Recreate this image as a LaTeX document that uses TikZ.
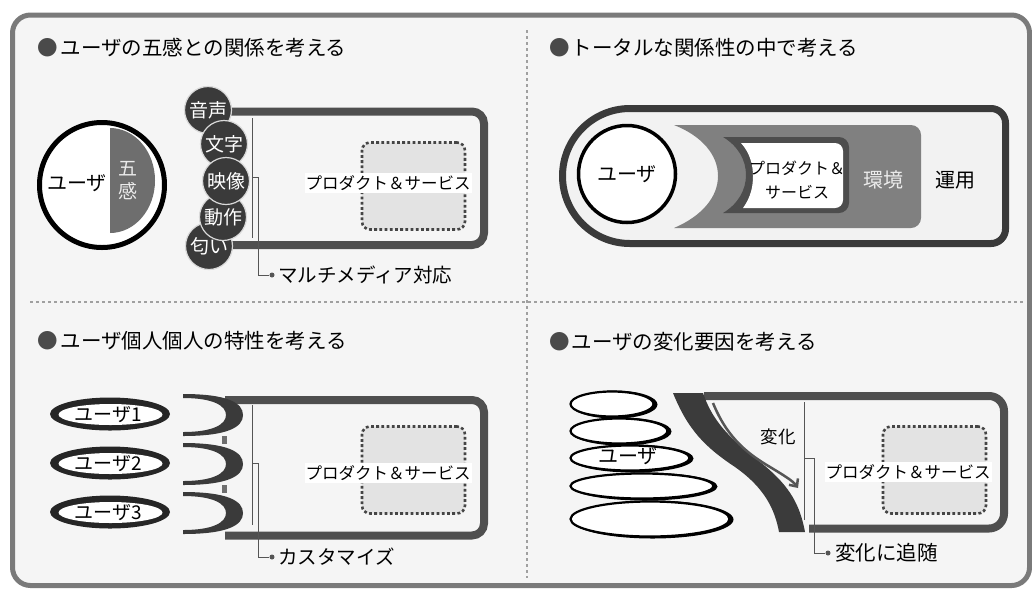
\documentclass[tikz,border=0pt]{standalone}
\usepackage{fontspec}
\setmainfont{Noto Sans CJK JP}
\usetikzlibrary{shapes.geometric,arrows.meta,calc}
\definecolor{framegray}{HTML}{7A7A7A}
\definecolor{bgcol}{HTML}{F5F5F5}
\definecolor{divgray}{HTML}{A0A0A0}
\definecolor{boxgray}{HTML}{4F4F4F}
\definecolor{sensedark}{HTML}{3A3A3A}
\definecolor{sensegray}{HTML}{6E6E6E}
\definecolor{slotline}{HTML}{454545}
\definecolor{slotfill}{HTML}{E3E3E3}
\definecolor{guidegray}{HTML}{555555}
\definecolor{bulletgray}{HTML}{4A4A4A}
\definecolor{envgray}{HTML}{808080}
\definecolor{proddark}{HTML}{4D4D4D}
\definecolor{bandgray}{HTML}{3B3B3B}
\definecolor{capfill}{HTML}{F2F2F2}
\definecolor{arrowgray}{HTML}{555555}
\tikzset{
 title/.style={anchor=west, inner sep=0, font=\fontsize{20.5}{24}\selectfont},
 boxline/.style={draw=boxgray, line width=8pt, rounded corners=12pt},
 sense/.style={circle, fill=sensedark, draw=white!85!black, line width=1.2pt, minimum size=47pt, inner sep=0, text=white, font=\fontsize{19}{20}\selectfont},
 pslot/.style={draw=slotline, fill=slotfill, line width=2.6pt, dash pattern=on 2.8pt off 2.4pt, rounded corners=8pt, minimum width=103pt, minimum height=87pt, inner sep=0},
 plabel/.style={fill=white, inner xsep=1pt, inner ysep=2pt, font=\fontsize{16.5}{20}\selectfont},
 guide/.style={draw=guidegray, line width=1pt},
 gdot/.style={circle, fill=guidegray, inner sep=0, minimum size=5pt},
 note/.style={anchor=west, inner sep=0, font=\fontsize{19.5}{22}\selectfont},
 divider/.style={draw=divgray, line width=1.2pt, dash pattern=on 3pt off 3pt},
 lbl/.style={inner sep=0, font=\fontsize{20}{22}\selectfont},
}
\begin{document}
\begin{tikzpicture}[x=1pt,y=-1pt]
\useasboundingbox (0,0) rectangle (1032,590);
\fill[white] (0,0) rectangle (1032,590);
% outer frame
\draw[framegray, line width=5pt, fill=bgcol, rounded corners=18pt] (12.5,15) rectangle (1029.5,585.5);
% dividers
\draw[divider] (527,30) -- (527,578);
\draw[divider] (30,302) -- (1024,302);

% ================= Panel 1 =================
\node[title] (t1) at (37,48) {\textcolor{bulletgray}{●}\hspace{3pt}ユーザの五感との関係を考える};
\draw[boxline] (208,111.5) -- (484,111.5) -- (484,245) -- (208,245);
\node[pslot] (s1) at (413.5,186) {};
\node[plabel] (p1) at (388,183) {プロダクト＆サービス};
% user circle
\node[circle, draw=black, line width=5pt, fill=white, minimum size=125pt, inner sep=0] (u1) at (102,185) {};
\fill[sensegray] (110,128) arc[start angle=-90, end angle=90, x radius=45, y radius=52.5] -- cycle;
\node[lbl] (u1t) at (77,183) {ユーザ};
\node[lbl, text=white!92!black, align=center, font=\fontsize{19}{23}\selectfont] (u1s) at (128,181) {五\\感};
% senses
\node[sense] (c1) at (208,110) {音声};
\node[sense] (c5) at (209,246) {匂い};
\node[sense] (c2) at (224,144) {文字};
\node[sense] (c4) at (223,217) {動作};
\node[sense] (c3) at (226,181) {映像};
% guide
\coordinate (g1a) at (252,118);
\coordinate (g1b) at (252,238);
\coordinate (g1m) at (252,177);
\draw[guide] (g1a) -- (g1b);
\node[gdot] (d1) at (272,275) {};
\draw[guide] (g1m) -- ++(6,0) |- (d1);
\node[note] (n1) at (278,275) {マルチメディア対応};

% ================= Panel 2 =================
\node[title] (t2) at (549,48) {\textcolor{bulletgray}{●}\hspace{2pt}トータルな関係性の中で考える};
\draw[draw=sensedark, line width=7pt, fill=capfill] (630,243.5) arc[start angle=90, end angle=270, radius=67.5] -- (991,108.5) arc[start angle=-90, end angle=0, radius=14.5] -- (1005.5,229) arc[start angle=0, end angle=90, radius=14.5] -- cycle;
\fill[envgray] (674,125) -- (911,125) arc[start angle=-90, end angle=0, radius=10] -- (921,218) arc[start angle=0, end angle=90, radius=10] -- (674,228) .. controls (702,216) and (718,197) .. (718,176) .. controls (718,155) and (702,136) .. (674,125) -- cycle;
\fill[proddark] (723,137) -- (839,137) arc[start angle=-90, end angle=0, radius=10] -- (849,203) arc[start angle=0, end angle=90, radius=10] -- (723,213) .. controls (738,204) and (746,190) .. (746,175) .. controls (746,160) and (738,146) .. (723,137) -- cycle;
\fill[white] (741,143) -- (835,143) arc[start angle=-90, end angle=0, radius=8] -- (843,200) arc[start angle=0, end angle=90, radius=8] -- (743,208) .. controls (751,197) and (753,186) .. (753,176) .. controls (753,165) and (750,153) .. (741,143) -- cycle;
\node[lbl, align=center, font=\fontsize{16}{24}\selectfont] (p2) at (797,180) {プロダクト＆\\サービス};
\node[lbl, text=white!92!black] (env) at (883,180) {環境};
\node[lbl] (ops) at (955,180) {運用};
\node[circle, draw=black, line width=3.5pt, fill=white, minimum size=97pt, inner sep=0] (u2) at (627,174) {};
\node[lbl] (u2t) at (627,174) {ユーザ};

% ================= Panel 3 =================
\node[title] (t3) at (37,341) {\textcolor{bulletgray}{●}\hspace{3pt}ユーザ個人個人の特性を考える};
\draw[boxline] (225,400) -- (484,400) -- (484,535.5) -- (225,535.5);
\node[pslot] (s3) at (413.5,470) {};
\node[plabel] (p3) at (388,473) {プロダクト＆サービス};
\fill[sensegray] (222,436) rectangle (227,444);
\fill[sensegray] (222,485) rectangle (227,493);
\foreach \cy in {415,464,513}{
  \fill[sensedark] (183,\cy-21) .. controls (228,\cy-21) and (243,\cy-12) .. (243,\cy) .. controls (243,\cy+12) and (228,\cy+21) .. (183,\cy+21) -- (183,\cy+17) .. controls (214,\cy+17) and (226,\cy+9) .. (226,\cy) .. controls (226,\cy-9) and (214,\cy-17) .. (183,\cy-17) -- cycle;
}
\foreach \cy/\nm/\tx in {414/e31/ユーザ1, 463/e32/ユーザ2, 512/e33/ユーザ3}{
  \fill[black!85] (110,\cy) ellipse[x radius=60, y radius=16.5];
  \fill[white] (110.5,\cy+0.5) ellipse[x radius=52, y radius=10.5];
  \node[lbl, font=\fontsize{19}{22}\selectfont] (\nm) at (108,\cy+1) {\tx};
}
\coordinate (g3a) at (252,405);
\coordinate (g3b) at (252,525);
\coordinate (g3m) at (252,463);
\draw[guide] (g3a) -- (g3b);
\node[gdot] (d3) at (272,557) {};
\draw[guide] (g3m) -- ++(6,0) |- (d3);
\node[note] (n3) at (278,557) {カスタマイズ};

% ================= Panel 4 =================
\node[title] (t4) at (549,342) {\textcolor{bulletgray}{●}\hspace{2pt}ユーザの変化要因を考える};
\draw[boxline, rounded corners=15pt] (704,396) -- (1004,396) -- (1004,528.5) -- (809,528.5);
\node[pslot] (s4) at (934.5,470) {};
\node[plabel] (p4) at (908,472) {プロダクト＆サービス};
% user stack
\foreach \ex/\ey/\rx/\ry in {612/404/43/14, 619/431/50/14, 630/458/61/14, 642/486/73/14, 650/519/81/19}{
  \fill[black] (\ex+2.5,\ey+0.5) ellipse[x radius=\rx, y radius=\ry];
  \draw[black, line width=2.2pt, fill=white] (\ex,\ey) ellipse[x radius=\rx-1.5, y radius=\ry-1.5];
}
\node[lbl] (u4t) at (628,456) {ユーザ};
% band
\fill[bandgray] (673,393) .. controls (688,430) and (705,447) .. (735,467) .. controls (765,488) and (775,510) .. (779,532) -- (805,532) .. controls (800,505) and (790,487) .. (765,466) .. controls (737,443) and (715,428) .. (703,393) -- cycle;
\coordinate (a4s) at (713,403);
\coordinate (a4e) at (798,488);
\draw[draw=arrowgray, line width=2.5pt, -{Straight Barb[length=6pt,width=11pt]}] (a4s) .. controls (728,440) and (750,455) .. (770,467) .. controls (785,476) and (793,481) .. (a4e);
\node[lbl, font=\fontsize{17.5}{20}\selectfont] (chg) at (778,437) {変化};
\coordinate (g4a) at (804,402);
\coordinate (g4b) at (804,520);
\coordinate (g4m) at (804,458);
\draw[guide] (g4a) -- (g4b);
\node[gdot] (d4) at (828,553) {};
\draw[guide] (g4m) -- ++(10,0) |- (d4);
\node[note, font=\fontsize{20.5}{22}\selectfont] (n4) at (835,553) {変化に追随};
\end{tikzpicture}
\end{document}
